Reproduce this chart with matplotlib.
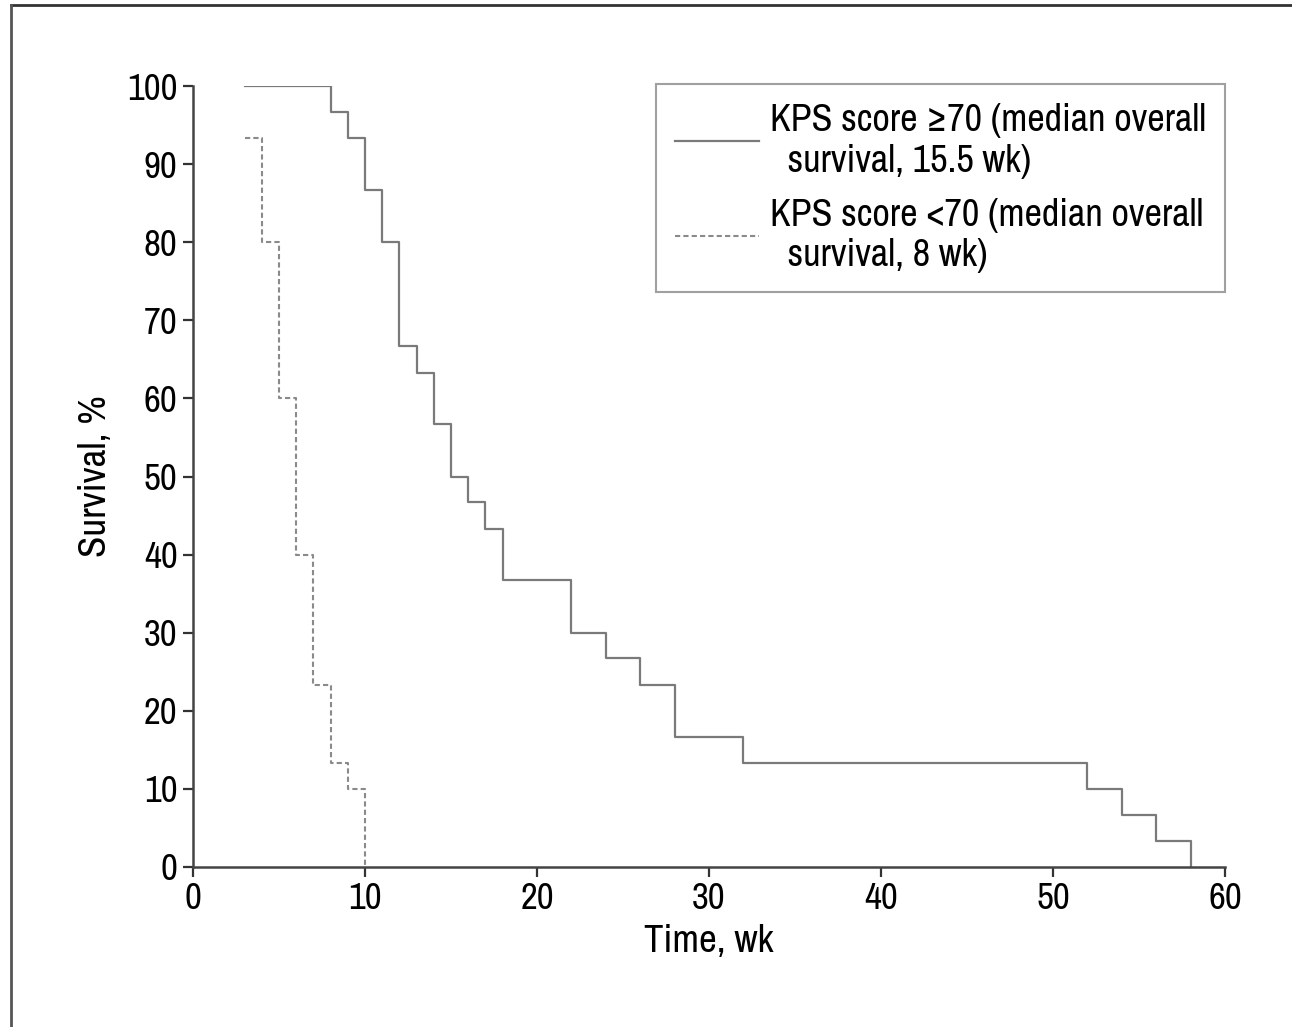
import matplotlib
matplotlib.use("Agg")
import matplotlib.pyplot as plt
from matplotlib.lines import Line2D
from matplotlib import font_manager as fm

# Data (Kaplan-Meier step values)
high_times = [3, 8, 9, 10, 11, 12, 13, 14, 15, 16, 17, 18, 22, 24, 26, 28, 32, 52, 54, 56, 58]
high_surv = [100, 96.7, 93.3, 86.7, 80, 66.7, 63.3, 56.7, 50, 46.7, 43.3, 36.7, 30, 26.7, 23.3, 16.7, 13.3, 10, 6.7, 3.3, 0]
low_times = [3, 4, 5, 6, 7, 8, 9, 10]
low_surv = [93.3, 80, 60, 40, 23.3, 13.3, 10, 0]

label_high = "KPS score \u226570 (median overall\n  survival, 15.5 wk)"
label_low = "KPS score <70 (median overall\n  survival, 8 wk)"
x_ticks = [0, 10, 20, 30, 40, 50, 60]
y_ticks = [0, 10, 20, 30, 40, 50, 60, 70, 80, 90, 100]

available = {f.name for f in fm.fontManager.ttflist}
families = [f for f in ['Archivo Narrow', 'Roboto Condensed', 'Liberation Sans'] if f in available]
plt.rcParams['font.family'] = families + ['DejaVu Sans']

fig = plt.figure(figsize=(12.92, 10.27), dpi=100)
ax = fig.add_axes([193/1292, 160/1027, (1225-193)/1292, (867-86)/1027])

ax.step(high_times, high_surv, where='post', color='#7a7a7a', lw=1.6, label=label_high)
ax.step(low_times, low_surv, where='post', color='#8a8a8a', lw=1.5,
        linestyle=(0, (2.5, 1.5)), label=label_low)

ax.set_xlim(0, 60)
ax.set_ylim(0, 100)
ax.set_xticks(x_ticks)
ax.set_yticks(y_ticks)
for s in ['top', 'right']:
    ax.spines[s].set_visible(False)
for s in ['left', 'bottom']:
    ax.spines[s].set_color('#444444')
    ax.spines[s].set_linewidth(1.8)
ax.tick_params(axis='both', direction='out', length=7, width=1.6, color='#333333',
               labelsize=26.5, pad=4)
ax.set_xlabel("Time, wk", fontsize=28, labelpad=6)
ax.set_ylabel("Survival, %", fontsize=28, labelpad=10)

leg = ax.legend(loc='upper right', bbox_to_anchor=(1.0, 1.0026), fontsize=27.5,
                frameon=True, fancybox=False, edgecolor='#888888',
                handlelength=2.2, handletextpad=0.28, borderpad=0.5,
                labelspacing=0.5, borderaxespad=0)
leg.get_frame().set_linewidth(1.5)
for t in leg.get_texts():
    t.set_linespacing(1.2)

# figure border lines (top and left)
fig.add_artist(Line2D([11/1292, 1.0], [1 - 5/1027, 1 - 5/1027], transform=fig.transFigure,
                      color='#333333', lw=2))
fig.add_artist(Line2D([11/1292, 11/1292], [0, 1 - 5/1027], transform=fig.transFigure,
                      color='#555555', lw=2))

fig.savefig("out.png", dpi=100)
